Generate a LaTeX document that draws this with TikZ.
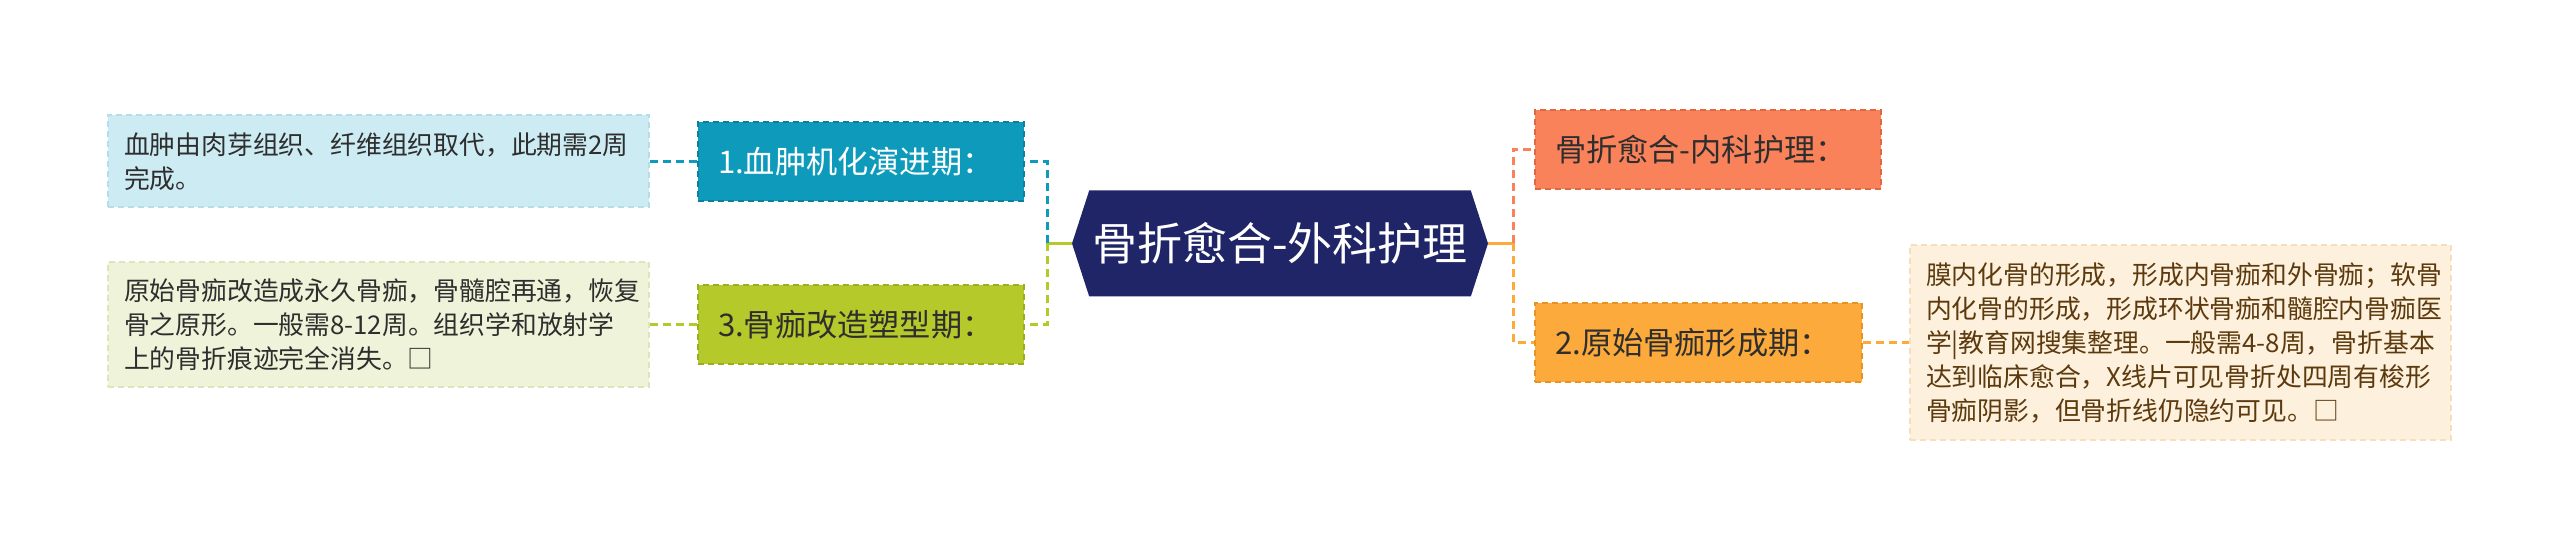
\documentclass[tikz,border=0pt]{standalone}
\usepackage{fontspec}
\setmainfont{Noto Sans CJK SC}
\usetikzlibrary{positioning}
\usetikzlibrary{shapes.symbols}

\definecolor{navy}{HTML}{1F2566}
\definecolor{tealfill}{HTML}{0E9BBB}
\definecolor{tealedge}{HTML}{0B7F9B}
\definecolor{tealleaf}{HTML}{CDEBF3}
\definecolor{tealleafedge}{HTML}{B5DDEA}
\definecolor{limefill}{HTML}{B5C92B}
\definecolor{limeedge}{HTML}{9AAF1E}
\definecolor{limeleaf}{HTML}{EFF3D9}
\definecolor{limeleafedge}{HTML}{DCE5BC}
\definecolor{coralfill}{HTML}{F9825A}
\definecolor{coraledge}{HTML}{E2673F}
\definecolor{amberfill}{HTML}{FBAA3B}
\definecolor{amberedge}{HTML}{E8931F}
\definecolor{amberleaf}{HTML}{FDF0DC}
\definecolor{amberleafedge}{HTML}{F5DFBD}
\definecolor{darktext}{HTML}{2E2E2E}
\definecolor{browntext}{HTML}{5C3A0E}

\begin{document}
\begin{tikzpicture}[x=0.5pt,y=-0.5pt,
  root/.style={shape=signal,signal to=east and west,signal pointer angle=144,
    fill=navy,text=white,minimum width=208pt,minimum height=53pt,inner sep=0pt,
    font=\fontsize{22.5pt}{27pt}\selectfont},
  stage/.style={draw,line width=1pt,dash pattern=on 3pt off 2pt,minimum height=39.5pt,
    inner xsep=10pt,align=left,font=\fontsize{15.6pt}{18pt}\selectfont},
  leaf/.style={draw,line width=1pt,dash pattern=on 3pt off 2pt,inner xsep=8pt,
    text width=254.5pt,align=left,font=\fontsize{12.9pt}{17pt}\selectfont},
  link/.style={line width=1.5pt,dash pattern=on 4pt off 2.5pt},
  node distance=23.5pt]

 \useasboundingbox (0,0) rectangle (2560,544);

 \node[root] (root) at (1280,243.5) {骨折愈合-外科护理};

 % left side
 \node[stage,fill=tealfill,draw=tealedge,text=white,text width=143pt] (s1) at (861,161.5) {1.血肿机化演进期：};
 \node[stage,fill=limefill,draw=limeedge,text=darktext,text width=143pt] (s3) at (861,325) {3.骨痂改造塑型期：};
 \node[leaf,fill=tealleaf,draw=tealleafedge,text=darktext,minimum height=46pt,left=of s1] (d1)
  {血肿由肉芽组织、纤维组织取代，此期需2周\\完成。};
 \node[leaf,fill=limeleaf,draw=limeleafedge,text=darktext,minimum height=62.5pt,left=of s3] (d3)
  {原始骨痂改造成永久骨痂，骨髓腔再通，恢复\\骨之原形。一般需8-12周。组织学和放射学\\上的骨折痕迹完全消失。□};

 % right side
 \node[stage,fill=coralfill,draw=coraledge,text=darktext,text width=153pt] (med) at (1708,149.5) {骨折愈合-内科护理：};
 \node[stage,fill=amberfill,draw=amberedge,text=darktext,text width=143.5pt] (s2) at (1698.5,342.5) {2.原始骨痂形成期：};
 \node[leaf,fill=amberleaf,draw=amberleafedge,text=browntext,minimum height=97.5pt,right=23pt of s2] (d2)
  {膜内化骨的形成，形成内骨痂和外骨痂；软骨\\内化骨的形成，形成环状骨痂和髓腔内骨痂医\\学|教育网搜集整理。一般需4-8周，骨折基本\\达到临床愈合，X线片可见骨折处四周有梭形\\骨痂阴影，但骨折线仍隐约可见。□};

 \coordinate (lj) at (1047,243.5);
 \coordinate (rj) at (1513,243.5);

 \draw[line width=1.5pt,limefill] (root.west) -- (lj);
 \draw[link,tealfill] (lj) |- (s1.east);
 \draw[link,limefill] (lj) |- (s3.east);
 \draw[link,tealfill] (s1.west) -- (d1.east);
 \draw[link,limefill] (s3.west) -- (d3.east);

 \draw[line width=1.5pt,amberfill] (root.east) -- (rj);
 \draw[link,coralfill] (rj) |- (med.west);
 \draw[link,amberfill] (rj) |- (s2.west);
 \draw[link,amberfill] (s2.east) -- (d2.west);
\end{tikzpicture}
\end{document}
